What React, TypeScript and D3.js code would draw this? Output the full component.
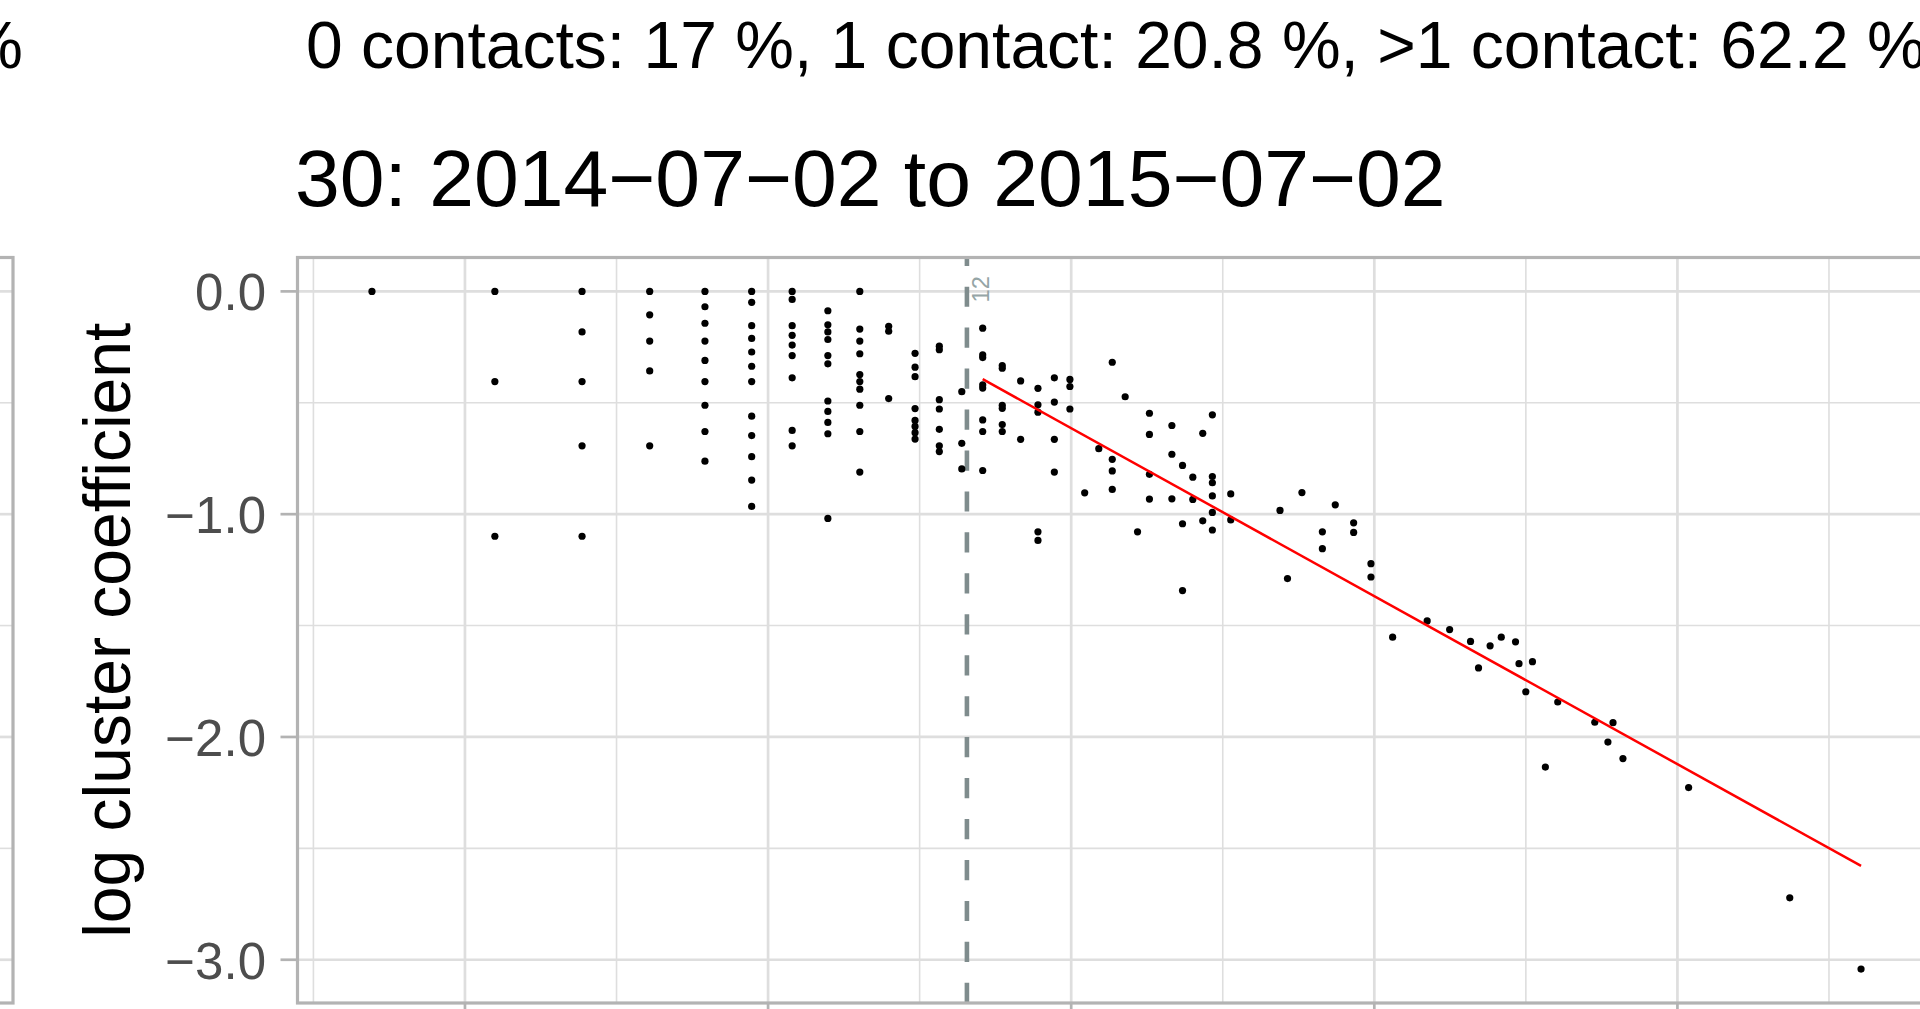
import * as d3 from "d3";
import React from "react";

// degree columns (x axis is ln(degree)) and the log cluster coefficients found in each column
const degreeValues = [
  2, 3, 4, 5, 6, 7, 8, 9, 10, 11, 12, 13, 14, 15, 16, 17, 18, 19, 20, 21, 22, 23, 24, 25, 26,
  28, 29, 30, 31, 32, 34, 40, 41, 43, 46, 48, 51, 54, 58, 65, 70, 75, 77, 80, 83, 87, 88, 90,
  92, 96, 100, 113, 118, 120, 124, 154, 215, 272,
];

const logCoefByDegree = [
  [0],
  [0, -0.405, -1.099],
  [0, -0.182, -0.405, -0.693, -1.099],
  [0, -0.105, -0.223, -0.357, -0.693],
  [0, -0.069, -0.143, -0.223, -0.31, -0.405, -0.511, -0.629, -0.762],
  [0, -0.049, -0.154, -0.211, -0.272, -0.336, -0.405, -0.56, -0.647, -0.742, -0.847, -0.965],
  [0, -0.036, -0.154, -0.197, -0.241, -0.288, -0.388, -0.624, -0.693],
  [-0.087, -0.15, -0.182, -0.216, -0.288, -0.325, -0.492, -0.539, -0.588, -0.639, -1.019],
  [0, -0.169, -0.223, -0.28, -0.373, -0.405, -0.439, -0.511, -0.629, -0.811],
  [-0.157, -0.179, -0.481],
  [-0.278, -0.34, -0.383, -0.526, -0.579, -0.606, -0.634, -0.663],
  [-0.246, -0.262, -0.486, -0.528, -0.619, -0.693, -0.719],
  [-0.45, -0.682, -0.797],
  [-0.165, -0.285, -0.297, -0.42, -0.434, -0.577, -0.629, -0.804],
  [-0.333, -0.345, -0.511, -0.525, -0.598, -0.629],
  [-0.402, -0.664],
  [-0.435, -0.509, -0.542, -1.079, -1.118],
  [-0.388, -0.497, -0.664, -0.811],
  [-0.395, -0.427, -0.528],
  [-0.904],
  [-0.706],
  [-0.318, -0.754, -0.806, -0.889],
  [-0.473],
  [-1.079],
  [-0.547, -0.642, -0.821, -0.932],
  [-0.602, -0.731, -0.931],
  [-0.781, -1.043, -1.343],
  [-0.834, -0.934],
  [-0.637, -1.03],
  [-0.554, -0.831, -0.859, -0.918, -0.992, -1.071],
  [-0.909, -1.026],
  [-0.983],
  [-1.289],
  [-0.903],
  [-1.079, -1.155],
  [-0.958],
  [-1.039, -1.082],
  [-1.222, -1.282],
  [-1.552],
  [-1.479],
  [-1.518],
  [-1.571],
  [-1.69],
  [-1.591],
  [-1.552],
  [-1.573],
  [-1.671],
  [-1.797],
  [-1.662],
  [-2.135],
  [-1.843],
  [-1.934],
  [-2.023],
  [-1.936],
  [-2.097],
  [-2.227],
  [-2.722],
  [-3.042],
];

// power-law fit drawn from degree 15 on
const fitFromDegree = 15;
const fitIntercept = 1.648;
const fitSlope = -0.754;

// vertical marker (in ln units) and its label
const markerX = 2.656;
const markerLabel = "12";

const titleText = "30: 2014\u221207\u221202 to 2015\u221207\u221202";
const subtitleText = "0 contacts: 17 %, 1 contact: 20.8 %, >1 contact: 62.2 %";
const yAxisTitle = "log cluster coefficient";

const FONT = "'Liberation Sans', Arial, Helvetica, sans-serif";

export default function App() {
  const width = 1920;
  const height = 1009;
  const panel = { left: 297.5, top: 257.5, right: 1935.5, bottom: 1003 };

  const points = degreeValues.flatMap((d, i) =>
    logCoefByDegree[i].map((v) => ({ x: Math.log(d), y: v }))
  );

  // ggplot style 5% expansion of the data range
  const [x0, x1] = d3.extent(points, (p) => p.x) as [number, number];
  const [y0, y1] = d3.extent(points, (p) => p.y) as [number, number];
  const xPad = (x1 - x0) * 0.05;
  const yPad = (y1 - y0) * 0.05;

  const xScale = d3
    .scaleLinear()
    .domain([x0 - xPad, x1 + xPad])
    .range([panel.left, panel.right]);

  const yScale = d3
    .scaleLinear()
    .domain([y0 - yPad, y1 + yPad])
    .range([panel.bottom, panel.top]);

  const xMajor = xScale.ticks(5);
  const xMinor = xScale.ticks(10).filter((t) => !xMajor.includes(t));
  const yMajor = yScale.ticks(4);
  const yMinor = yScale.ticks(8).filter((t) => !yMajor.includes(t));

  const fmt = (v: number) => d3.format(".1f")(v).replace("-", "\u2212");

  const fitLine = d3
    .line<number>()
    .x((d) => xScale(d))
    .y((d) => yScale(fitIntercept + fitSlope * d));
  const fitPath = fitLine([Math.log(fitFromDegree), x1]);

  const gridCol = "#DEDEDE";
  const borderCol = "#B3B3B3";

  return (
    <svg
      width={width}
      height={height}
      style={{ position: "absolute", left: 0, top: 0, background: "#fff" }}
      fontFamily={FONT}
    >
      <defs>
        <clipPath id="panel-clip">
          <rect
            x={panel.left}
            y={panel.top}
            width={panel.right - panel.left}
            height={panel.bottom - panel.top}
          />
        </clipPath>
      </defs>
      <rect width={width} height={height} fill="#fff" />

      {/* edge of the neighbouring panel on the left */}
      <g>
        {yMinor.map((t) => (
          <line key={"lm" + t} x1={0} x2={13} y1={yScale(t)} y2={yScale(t)} stroke={gridCol} strokeWidth={1.6} />
        ))}
        {yMajor.map((t) => (
          <line key={"lM" + t} x1={0} x2={13} y1={yScale(t)} y2={yScale(t)} stroke={gridCol} strokeWidth={2.7} />
        ))}
        <rect
          x={-100}
          y={panel.top}
          width={113}
          height={panel.bottom - panel.top}
          fill="none"
          stroke={borderCol}
          strokeWidth={3.2}
        />
        <text x={23} y={67.5} fontSize={66} textAnchor="end" fill="#000">
          %
        </text>
      </g>

      {/* titles */}
      <text x={306} y={67.5} fontSize={66} fill="#000">
        {subtitleText}
      </text>
      <text x={295} y={206} fontSize={80.5} fill="#000">
        {titleText}
      </text>

      {/* panel */}
      <g clipPath="url(#panel-clip)">
        {xMinor.map((t) => (
          <line key={"xm" + t} x1={xScale(t)} x2={xScale(t)} y1={panel.top} y2={panel.bottom} stroke={gridCol} strokeWidth={1.6} />
        ))}
        {yMinor.map((t) => (
          <line key={"ym" + t} x1={panel.left} x2={panel.right} y1={yScale(t)} y2={yScale(t)} stroke={gridCol} strokeWidth={1.6} />
        ))}
        {xMajor.map((t) => (
          <line key={"xM" + t} x1={xScale(t)} x2={xScale(t)} y1={panel.top} y2={panel.bottom} stroke={gridCol} strokeWidth={2.7} />
        ))}
        {yMajor.map((t) => (
          <line key={"yM" + t} x1={panel.left} x2={panel.right} y1={yScale(t)} y2={yScale(t)} stroke={gridCol} strokeWidth={2.7} />
        ))}

        <line
          x1={xScale(markerX)}
          x2={xScale(markerX)}
          y1={panel.bottom}
          y2={panel.top}
          stroke="#7f8c8d"
          strokeWidth={4.6}
          strokeDasharray="20.2 20.75"
        />
        <text
          transform={`translate(${xScale(markerX) + 22},${yScale(0) + 11}) rotate(-90)`}
          fontSize={23.5}
          fill="#95a5a6"
        >
          {markerLabel}
        </text>

        {points.map((p, i) => (
          <circle key={i} cx={xScale(p.x)} cy={yScale(p.y)} r={3.6} fill="#000" />
        ))}

        <path d={fitPath || undefined} fill="none" stroke="#FF0000" strokeWidth={2.5} />
      </g>

      <rect
        x={panel.left}
        y={panel.top}
        width={panel.right - panel.left}
        height={panel.bottom - panel.top}
        fill="none"
        stroke={borderCol}
        strokeWidth={3.2}
      />

      {/* y axis */}
      {yMajor.map((t) => (
        <g key={"yt" + t}>
          <line x1={panel.left - 17} x2={panel.left} y1={yScale(t)} y2={yScale(t)} stroke={borderCol} strokeWidth={2.7} />
          <text x={266} y={yScale(t) + 19} fontSize={51} textAnchor="end" fill="#4D4D4D">
            {fmt(t)}
          </text>
        </g>
      ))}

      {/* x axis ticks (labels fall below the crop) */}
      {xMajor.map((t) => (
        <line key={"xt" + t} x1={xScale(t)} x2={xScale(t)} y1={panel.bottom} y2={panel.bottom + 17} stroke={borderCol} strokeWidth={2.7} />
      ))}

      <text
        transform={`translate(130,${(panel.top + panel.bottom) / 2}) rotate(-90)`}
        fontSize={66}
        textAnchor="middle"
        fill="#000"
      >
        {yAxisTitle}
      </text>
    </svg>
  );
}
